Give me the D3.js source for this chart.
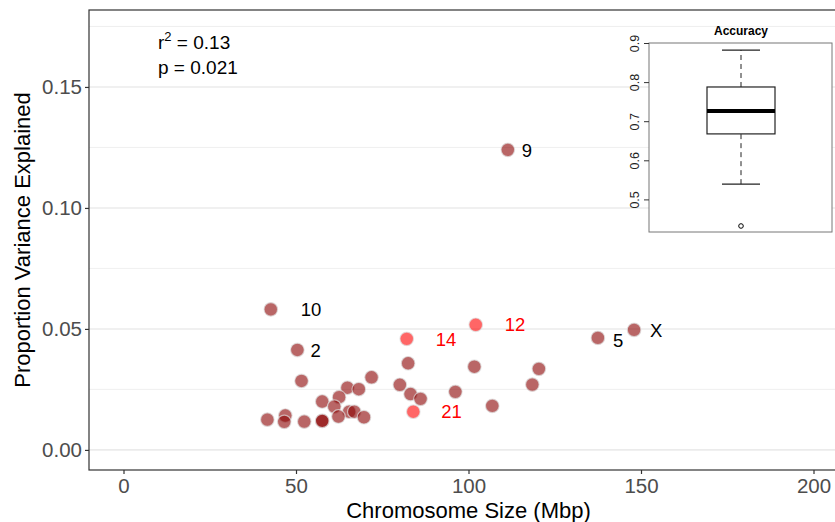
<!DOCTYPE html>
<html>
<head>
<meta charset="utf-8">
<script src="https://cdn.jsdelivr.net/npm/d3@7"></script>
<style>
  body { margin: 0; background: #fff; }
  text { font-family: "Liberation Sans", Arial, sans-serif; }
</style>
</head>
<body>
<div id="scatter"></div>
<script>
// chromosome size vs proportion variance explained
const sizeMbp = [42.7, 50.4, 111.4, 137.5, 148.0, 102.1, 82.1, 84.0,
    51.6, 71.9, 64.9, 68.2, 62.5, 57.6, 61.1, 65.4, 66.9, 62.3, 69.7, 41.7, 46.9, 46.6, 52.4, 57.6, 57.6,
    82.5, 101.7, 120.4, 80.1, 118.5, 83.2, 96.2, 86.1, 106.9];
const propVar = [0.0581, 0.0413, 0.1240, 0.0463, 0.0496, 0.0517, 0.0459, 0.0158,
    0.0285, 0.0300, 0.0257, 0.0251, 0.0218, 0.0200, 0.0179, 0.0158, 0.0158, 0.0138, 0.0135, 0.0125, 0.0142, 0.0116, 0.0117, 0.0120, 0.0120,
    0.0358, 0.0344, 0.0335, 0.0269, 0.0270, 0.0231, 0.0240, 0.0211, 0.0182];
const chromLabel = ["10", "2", "9", "5", "X", "12", "14", "21"];
const redChroms = ["12", "14", "21"];
// label nudges in px (like ggrepel)
const labelNudge = { "10": 30, "2": 13, "9": 14, "5": 15, "X": 16, "12": 29, "14": 29, "21": 28 };

const xTicks = [0, 50, 100, 150, 200];
const yTicks = [0, 0.05, 0.10, 0.15];
const yMinor = [0.025, 0.075, 0.125, 0.175];

// inset boxplot: accuracy (min whisker, q1, median, q3, max whisker)
const accStats = [0.539, 0.6675, 0.7263, 0.7875, 0.882];
const accOutliers = [0.432];
const accTicks = [0.5, 0.6, 0.7, 0.8, 0.9];

(function scatter_chart() {
    const width = 835, height = 522;
    const panel = { left: 89, top: 10, right: 848, bottom: 470 };

    const svg = d3.select("#scatter")
        .append("svg")
        .attr("width", width)
        .attr("height", height)
        .attr("viewBox", [0, 0, width, height]);

    let x = d3.scaleLinear()
        .domain([-10, 210])
        .range([panel.left, panel.right]);

    let y = d3.scaleLinear()
        .domain([-0.0083, 0.1818])
        .range([panel.bottom, panel.top]);

    // grid
    svg.append("g")
        .selectAll("line")
        .data(yMinor)
        .join("line")
        .attr("x1", panel.left).attr("x2", panel.right)
        .attr("y1", d => y(d)).attr("y2", d => y(d))
        .attr("stroke", "#ebebeb")
        .attr("stroke-width", 0.8);

    svg.append("g")
        .selectAll("line")
        .data(yTicks)
        .join("line")
        .attr("x1", panel.left).attr("x2", panel.right)
        .attr("y1", d => y(d)).attr("y2", d => y(d))
        .attr("stroke", "#ebebeb")
        .attr("stroke-width", 1.6);

    svg.append("rect")
        .attr("x", panel.left)
        .attr("y", panel.top)
        .attr("width", panel.right - panel.left)
        .attr("height", panel.bottom - panel.top)
        .attr("fill", "none")
        .attr("stroke", "#333")
        .attr("stroke-width", 1.2);

    // axes
    let xAxis = svg.append("g")
        .attr("transform", `translate(0,${panel.bottom})`)
        .call(d3.axisBottom(x)
            .tickValues(xTicks)
            .tickSize(4)
            .tickPadding(4)
            .tickSizeOuter(0));
    xAxis.select(".domain").remove();
    xAxis.selectAll("line").attr("stroke", "#333").attr("stroke-width", 1.2);
    xAxis.selectAll("text")
        .attr("fill", "#4d4d4d")
        .attr("font-size", 20.5)
        .attr("font-family", "Liberation Sans, Arial, sans-serif");

    let yAxis = svg.append("g")
        .attr("transform", `translate(${panel.left},0)`)
        .call(d3.axisLeft(y)
            .tickValues(yTicks)
            .tickFormat(d3.format(".2f"))
            .tickSize(4)
            .tickPadding(3)
            .tickSizeOuter(0));
    yAxis.select(".domain").remove();
    yAxis.selectAll("line").attr("stroke", "#333").attr("stroke-width", 1.2);
    yAxis.selectAll("text")
        .attr("fill", "#4d4d4d")
        .attr("font-size", 20.5)
        .attr("font-family", "Liberation Sans, Arial, sans-serif");

    svg.append("text")
        .attr("x", (123.5 + 813.5) / 2)
        .attr("y", 518)
        .attr("text-anchor", "middle")
        .attr("font-size", 22)
        .text("Chromosome Size (Mbp)");

    svg.append("text")
        .attr("transform", `translate(30,${(panel.top + panel.bottom) / 2}) rotate(-90)`)
        .attr("text-anchor", "middle")
        .attr("font-size", 22)
        .text("Proportion Variance Explained");

    // points
    let pts = sizeMbp.map((s, i) => ({ size: s, pve: propVar[i], label: chromLabel[i] || "" }));

    svg.append("g")
        .selectAll("circle")
        .data(pts)
        .join("circle")
        .attr("cx", d => x(d.size))
        .attr("cy", d => y(d.pve))
        .attr("r", 6.8)
        .attr("fill", d => redChroms.includes(d.label) ? "#ff0000" : "#8b0000")
        .attr("fill-opacity", 0.6)
        .attr("stroke", "#e0e0e0")
        .attr("stroke-opacity", 0.7)
        .attr("stroke-width", 1.2);

    svg.append("g")
        .selectAll("text")
        .data(pts.filter(d => d.label !== ""))
        .join("text")
        .attr("x", d => x(d.size) + labelNudge[d.label])
        .attr("y", d => y(d.pve) + (d.label === "5" ? 2 : 0))
        .attr("dy", "0.36em")
        .attr("font-size", 18.5)
        .attr("fill", d => redChroms.includes(d.label) ? "#ff0000" : "#000")
        .text(d => d.label);

    // r2 / p annotation
    let ann = svg.append("text")
        .attr("x", 158)
        .attr("y", 49)
        .attr("font-size", 19);
    ann.append("tspan").text("r");
    ann.append("tspan").attr("font-size", 13).attr("dy", -8).text("2");
    ann.append("tspan").attr("dy", 8).text(" = 0.13");

    svg.append("text")
        .attr("x", 158)
        .attr("y", 73.5)
        .attr("font-size", 19)
        .text("p = 0.021");

    // inset boxplot
    const inset = { left: 649, right: 832, top: 43, bottom: 232 };
    const cx = 741;

    let yb = d3.scaleLinear()
        .domain([0.9 - (inset.bottom - inset.top) / 391, 0.9])
        .range([inset.bottom, inset.top]);

    let g = svg.append("g");

    g.append("rect")
        .attr("x", inset.left)
        .attr("y", inset.top)
        .attr("width", inset.right - inset.left)
        .attr("height", inset.bottom - inset.top)
        .attr("fill", "#fff")
        .attr("stroke", "#777")
        .attr("stroke-width", 1);

    g.append("text")
        .attr("x", cx)
        .attr("y", 35)
        .attr("text-anchor", "middle")
        .attr("font-size", 12)
        .attr("font-weight", "bold")
        .text("Accuracy");

    let ib = g.append("g")
        .attr("transform", `translate(${inset.left},0)`)
        .call(d3.axisLeft(yb)
            .tickValues(accTicks)
            .tickFormat(d3.format(".1f"))
            .tickSize(5)
            .tickSizeOuter(0));
    ib.select(".domain").remove();
    ib.selectAll("line").attr("stroke", "#333");
    ib.selectAll("text")
        .attr("font-size", 12.5)
        .attr("fill", "#222")
        .attr("font-family", "Liberation Sans, Arial, sans-serif")
        .attr("text-anchor", "middle")
        .attr("dy", null)
        .attr("x", null)
        .attr("transform", "translate(-13,0) rotate(-90)")
        .attr("dominant-baseline", "middle");

    // whiskers
    g.append("line")
        .attr("x1", cx).attr("x2", cx)
        .attr("y1", yb(accStats[0])).attr("y2", yb(accStats[1]))
        .attr("stroke", "#222").attr("stroke-dasharray", "5,4");
    g.append("line")
        .attr("x1", cx).attr("x2", cx)
        .attr("y1", yb(accStats[3])).attr("y2", yb(accStats[4]))
        .attr("stroke", "#222").attr("stroke-dasharray", "5,4");
    g.selectAll(".cap")
        .data([accStats[0], accStats[4]])
        .join("line")
        .attr("x1", cx - 19).attr("x2", cx + 19)
        .attr("y1", d => yb(d)).attr("y2", d => yb(d))
        .attr("stroke", "#222").attr("stroke-width", 1.2);

    g.append("rect")
        .attr("x", cx - 34)
        .attr("width", 68)
        .attr("y", yb(accStats[3]))
        .attr("height", yb(accStats[1]) - yb(accStats[3]))
        .attr("fill", "#fff")
        .attr("stroke", "#222")
        .attr("stroke-width", 1.2);

    g.append("line")
        .attr("x1", cx - 34).attr("x2", cx + 34)
        .attr("y1", yb(accStats[2])).attr("y2", yb(accStats[2]))
        .attr("stroke", "#000").attr("stroke-width", 4);

    g.selectAll(".outlier")
        .data(accOutliers)
        .join("circle")
        .attr("cx", cx)
        .attr("cy", d => yb(d))
        .attr("r", 2.3)
        .attr("fill", "none")
        .attr("stroke", "#000")
        .attr("stroke-width", 1);
})();
</script>
</body>
</html>
